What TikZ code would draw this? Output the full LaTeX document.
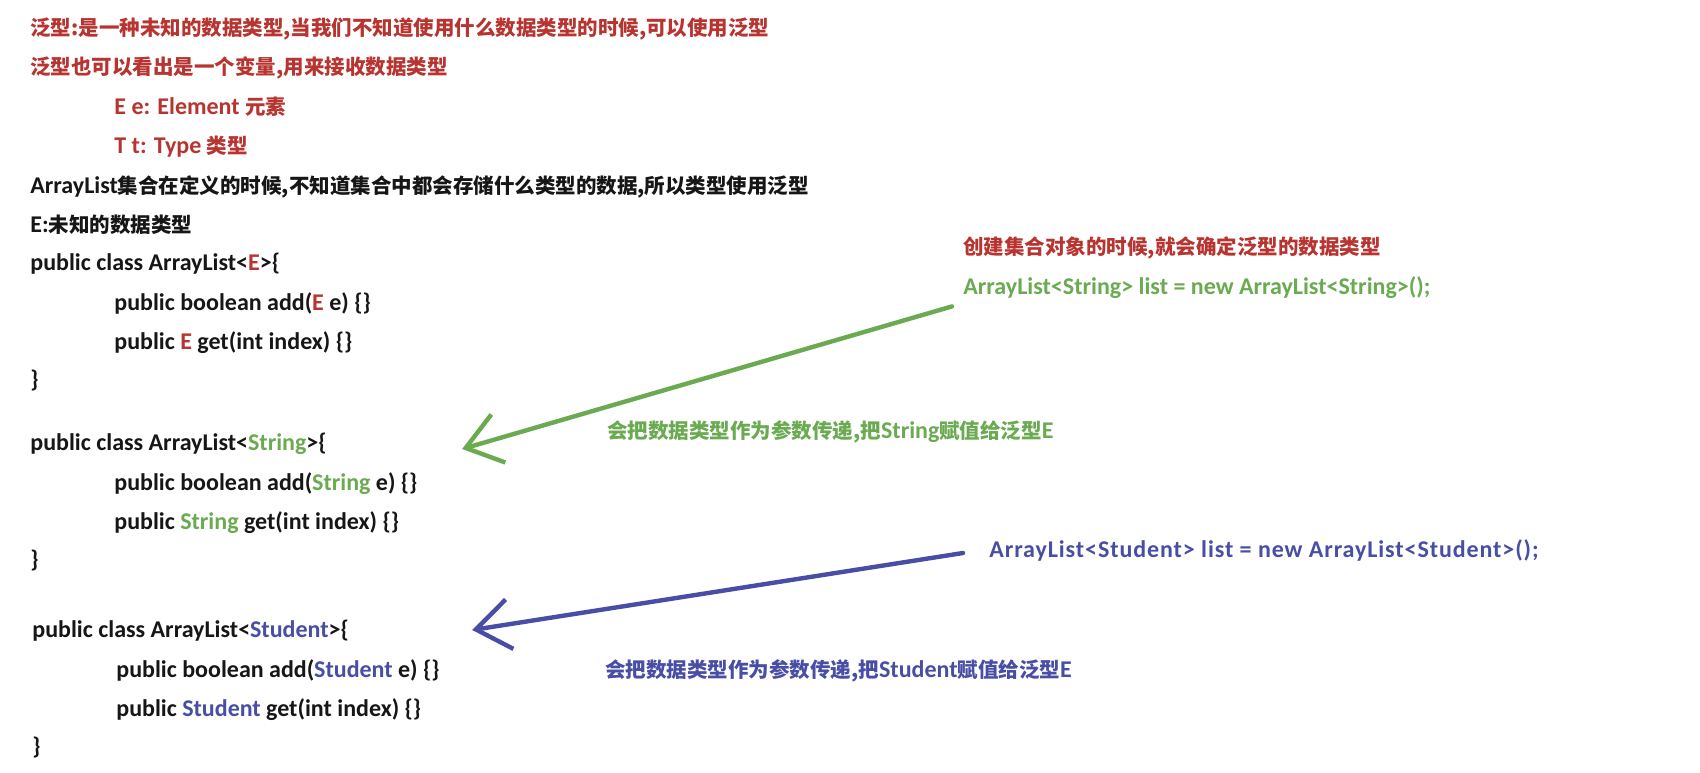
\documentclass[tikz,border=0pt]{standalone}
\usepackage{fontspec}
\setmainfont{Carlito}
\newfontfamily\cjk{Noto Sans CJK SC}
\newfontfamily\widelat{Carlito}[LetterSpace=3.8]
\usetikzlibrary{arrows.meta}
\definecolor{redt}{RGB}{184,52,48}
\definecolor{greent}{RGB}{106,170,80}
\definecolor{bluet}{RGB}{72,78,165}
\definecolor{inkt}{RGB}{22,22,22}
\newcommand\zh[1]{{\fontsize{10.25pt}{12pt}\cjk\bfseries #1}}
\tikzset{
  txt/.style={anchor=west, inner sep=0pt, text height=10pt, text depth=3pt,
    font=\fontsize{12pt}{14pt}\selectfont\bfseries, text=inkt},
  hand/.style={line width=2.2pt, line cap=round, line join=round, -{Straight Barb[length=17pt,width=25pt]}},
}

\begin{document}
\begin{tikzpicture}[x=0.5pt, y=-0.5pt]
  \fill[white] (0,0) rectangle (1700,772);
  \useasboundingbox (0,0) rectangle (1700,772);
  % notes at the top
  \node[txt, text=redt] (def) at (30,28) {\zh{泛型:是一种未知的数据类型,当我们不知道使用什么数据类型的时候,可以使用泛型}};
  \node[txt, text=redt] (var) at (30,67) {\zh{泛型也可以看出是一个变量,用来接收数据类型}};
  \node[txt, text=redt] (elem) at (114,107) {E e: Element \zh{元素}};
  \node[txt, text=redt] (type) at (114,146) {T t: Type \zh{类型}};
  \node[txt] (why) at (30,186) {ArrayList\zh{集合在定义的时候,不知道集合中都会存储什么类型的数据,所以类型使用泛型}};
  \node[txt] (unk) at (30,225) {E:\zh{未知的数据类型}};
  % the three class bodies
  \foreach \n/\t/\c/\x/\y in {E/E/redt/30/263, S/String/greent/30/443, T/Student/bluet/32/630}{
    \node[txt] (cls\n) at (\x,\y) {public class ArrayList<\textcolor{\c}{\t}>\{};
    \node[txt] (add\n) at (\x+84,\y+40) {public boolean add(\textcolor{\c}{\t} e) \{\}};
    \node[txt] (get\n) at (\x+84,\y+79) {public \textcolor{\c}{\t} get(int index) \{\}};
    \node[txt] (end\n) at (\x,\y+117) {\}};}
  % right side
  \node[txt, text=redt] (make) at (963,247) {\zh{创建集合对象的时候,就会确定泛型的数据类型}};
  \node[txt, text=greent] (sdecl) at (963,287) {ArrayList<String> list = new ArrayList<String>();};
  \node[txt, text=greent] (spass) at (607,431) {\zh{会把数据类型作为参数传递,把}String\zh{赋值给泛型}E};
  \node[txt, text=bluet] (tdecl) at (989,550) {\widelat ArrayList<Student> list = new ArrayList<Student>();};
  \node[txt, text=bluet] (tpass) at (605,670) {\zh{会把数据类型作为参数传递,把}Student\zh{赋值给泛型}E};
  % arrows
  \draw[hand, greent] ([xshift=-5.5pt,yshift=-3pt]sdecl.south west) -- ([xshift=67.5pt,yshift=-3pt]clsS.east);
  \draw[hand, bluet] ([xshift=-13pt,yshift=-1.5pt]tdecl.west) -- ([xshift=61.5pt]clsT.east);
\end{tikzpicture}
\end{document}
